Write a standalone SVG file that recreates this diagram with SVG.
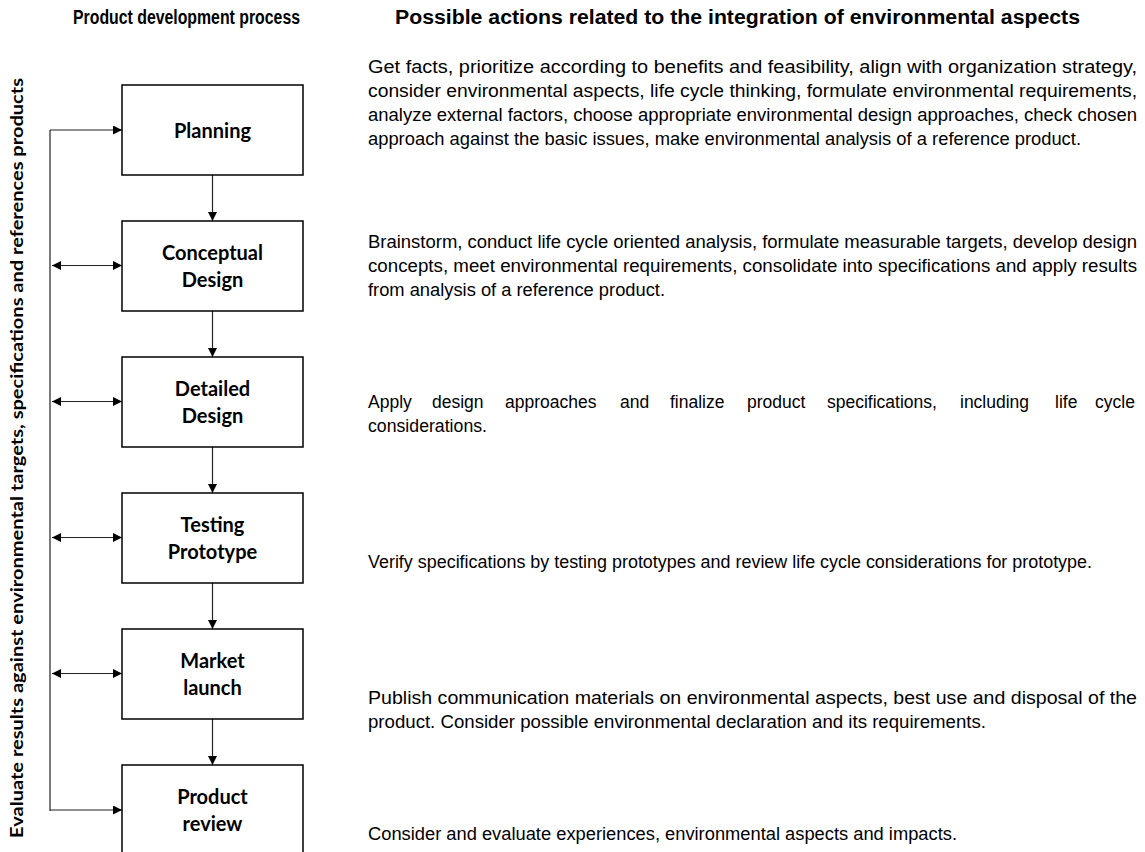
<svg xmlns="http://www.w3.org/2000/svg" width="1145" height="852" viewBox="0 0 1145 852">
<style>
.title{font-family:"Liberation Sans",Arial,sans-serif;font-weight:bold;font-size:20px;fill:#000}
.body{font-family:"Liberation Sans",Arial,sans-serif;font-size:17.5px;fill:#000}
.box{fill:#fff;stroke:#000;stroke-width:1.5}
.lbl{font-family:"Lato","Open Sans",sans-serif;font-weight:bold;font-size:20px;fill:#000;text-anchor:middle}
.side{font-family:"Lato","Open Sans",sans-serif;font-weight:bold;font-size:16.5px;fill:#000;text-anchor:middle}
.con{stroke:#222;stroke-width:1.2;fill:none}
</style>
<defs>
<marker id="ah" viewBox="0 0 10 10" refX="10" refY="5" markerWidth="9" markerHeight="9" markerUnits="userSpaceOnUse" orient="auto-start-reverse">
<path d="M0,0 L10,5 L0,10 Z" fill="#000"/>
</marker>
</defs>
<rect width="1145" height="852" fill="#fff"/>
<text class="title" x="73" y="24" textLength="227" lengthAdjust="spacingAndGlyphs">Product development process</text>
<text class="title" x="395" y="24" textLength="685" lengthAdjust="spacingAndGlyphs">Possible actions related to the integration of environmental aspects</text>

<text class="side" transform="translate(23,458) rotate(-90)" textLength="760" lengthAdjust="spacingAndGlyphs">Evaluate results against environmental targets, specifications and references products</text>

<g id="connectors">
<path class="con" d="M50,130 V811"/>
<path class="con" d="M50,130 H122" marker-end="url(#ah)"/>
<path class="con" d="M50,810 H122" marker-end="url(#ah)"/>
<path class="con" d="M52,265.5 H122" marker-start="url(#ah)" marker-end="url(#ah)"/>
<path class="con" d="M52,401.5 H122" marker-start="url(#ah)" marker-end="url(#ah)"/>
<path class="con" d="M52,537.5 H122" marker-start="url(#ah)" marker-end="url(#ah)"/>
<path class="con" d="M52,673.5 H122" marker-start="url(#ah)" marker-end="url(#ah)"/>
<path class="con" d="M212.5,175 V221" marker-end="url(#ah)"/>
<path class="con" d="M212.5,311 V357" marker-end="url(#ah)"/>
<path class="con" d="M212.5,447 V493" marker-end="url(#ah)"/>
<path class="con" d="M212.5,583 V629" marker-end="url(#ah)"/>
<path class="con" d="M212.5,719 V765" marker-end="url(#ah)"/>
</g>

<g id="planning">
<rect class="box" x="122" y="85" width="181" height="90"/>
<text class="lbl" x="212.5" y="138">Planning</text>
<text class="body" x="368" y="73" textLength="769" lengthAdjust="spacingAndGlyphs">Get facts, prioritize according to benefits and feasibility, align with organization strategy,</text>
<text class="body" x="368" y="97" textLength="769" lengthAdjust="spacingAndGlyphs">consider environmental aspects, life cycle thinking, formulate environmental requirements,</text>
<text class="body" x="368" y="121" textLength="769" lengthAdjust="spacingAndGlyphs">analyze external factors, choose appropriate environmental design approaches, check chosen</text>
<text class="body" x="368" y="145" textLength="713" lengthAdjust="spacingAndGlyphs">approach against the basic issues, make environmental analysis of a reference product.</text>
</g>

<g id="conceptual">
<rect class="box" x="122" y="221" width="181" height="90"/>
<text class="lbl" x="212.5" y="260">Conceptual</text>
<text class="lbl" x="212.5" y="287">Design</text>
<text class="body" x="368" y="248" textLength="769" lengthAdjust="spacingAndGlyphs">Brainstorm, conduct life cycle oriented analysis, formulate measurable targets, develop design</text>
<text class="body" x="368" y="272" textLength="769" lengthAdjust="spacingAndGlyphs">concepts, meet environmental requirements, consolidate into specifications and apply results</text>
<text class="body" x="368" y="296" textLength="297" lengthAdjust="spacingAndGlyphs">from analysis of a reference product.</text>
</g>

<g id="detailed">
<rect class="box" x="122" y="357" width="181" height="90"/>
<text class="lbl" x="212.5" y="396">Detailed</text>
<text class="lbl" x="212.5" y="423">Design</text>
<text class="body" y="408"><tspan x="368">Apply</tspan><tspan x="432">design</tspan><tspan x="505">approaches</tspan><tspan x="620">and</tspan><tspan x="670">finalize</tspan><tspan x="747">product</tspan><tspan x="827">specifications,</tspan><tspan x="960">including</tspan><tspan x="1055">life</tspan><tspan x="1095">cycle</tspan></text>
<text class="body" x="368" y="432" textLength="119" lengthAdjust="spacingAndGlyphs">considerations.</text>
</g>

<g id="testing">
<rect class="box" x="122" y="493" width="181" height="90"/>
<text class="lbl" x="212.5" y="532">Testing</text>
<text class="lbl" x="212.5" y="559">Prototype</text>
<text class="body" x="368" y="568" textLength="724" lengthAdjust="spacingAndGlyphs">Verify specifications by testing prototypes and review life cycle considerations for prototype.</text>
</g>

<g id="market">
<rect class="box" x="122" y="629" width="181" height="90"/>
<text class="lbl" x="212.5" y="668">Market</text>
<text class="lbl" x="212.5" y="695">launch</text>
<text class="body" x="368" y="704" textLength="769" lengthAdjust="spacingAndGlyphs">Publish communication materials on environmental aspects, best use and disposal of the</text>
<text class="body" x="368" y="728" textLength="618" lengthAdjust="spacingAndGlyphs">product. Consider possible environmental declaration and its requirements.</text>
</g>

<g id="review">
<rect class="box" x="122" y="765" width="181" height="95"/>
<text class="lbl" x="212.5" y="804">Product</text>
<text class="lbl" x="212.5" y="831">review</text>
<text class="body" x="368" y="840" textLength="589" lengthAdjust="spacingAndGlyphs">Consider and evaluate experiences, environmental aspects and impacts.</text>
</g>
</svg>
